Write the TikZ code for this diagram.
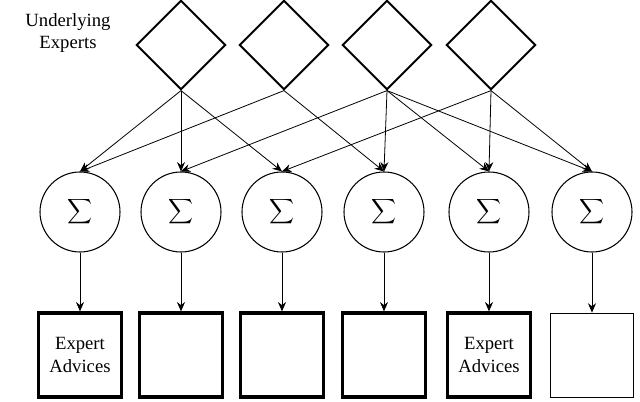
\documentclass[tikz,border=0pt]{standalone}
\usepackage{fontspec}
\setmainfont{Liberation Serif}
\usetikzlibrary{shapes.geometric,arrows.meta}
\tikzset{
  expert/.style={diamond, draw, line width=1.4pt, minimum width=67pt, minimum height=67pt, inner sep=0pt},
  summer/.style={circle, draw, thick, minimum size=60pt, inner sep=0pt},
  advice/.style={rectangle, draw, line width=2.4pt, minimum width=62pt, minimum height=63pt, align=center, font=\fontsize{14}{17}\selectfont},
  link/.style={-{Stealth[length=7pt,width=6pt]}, semithick}
}
\begin{document}
\begin{tikzpicture}[x=0.75pt,y=-0.75pt]
\useasboundingbox (0,0) rectangle (640,402);
\node[align=center, font=\fontsize{14}{17}\selectfont] (lbl) at (68,33) {Underlying\\Experts};
\node[expert] (d1) at (181,45) {};
\node[expert] (d2) at (284,45) {};
\node[expert] (d3) at (387,45) {};
\node[expert] (d4) at (491,45) {};
\foreach \i/\x in {1/80,2/181,3/282,4/384,5/489,6/592}
  \node[summer] (c\i) at (\x,212) {\scalebox{1.3}{$\displaystyle\sum$}};
\node[advice] (s1) at (80,355) {Expert\\Advices};
\node[advice] (s2) at (181,355) {};
\node[advice] (s3) at (282,355) {};
\node[advice] (s4) at (384,355) {};
\node[advice] (s5) at (489,355) {Expert\\Advices};
\node[advice, line width=0.6pt] (s6) at (592,355) {};
\foreach \d/\c in {1/1,1/2,1/3,2/1,2/4,3/2,3/4,3/5,3/6,4/3,4/5,4/6}
  \draw[link] (d\d.south) -- (c\c.north);
\foreach \i in {1,...,6}
  \draw[link] (c\i.south) -- (s\i.north);
\end{tikzpicture}
\end{document}
